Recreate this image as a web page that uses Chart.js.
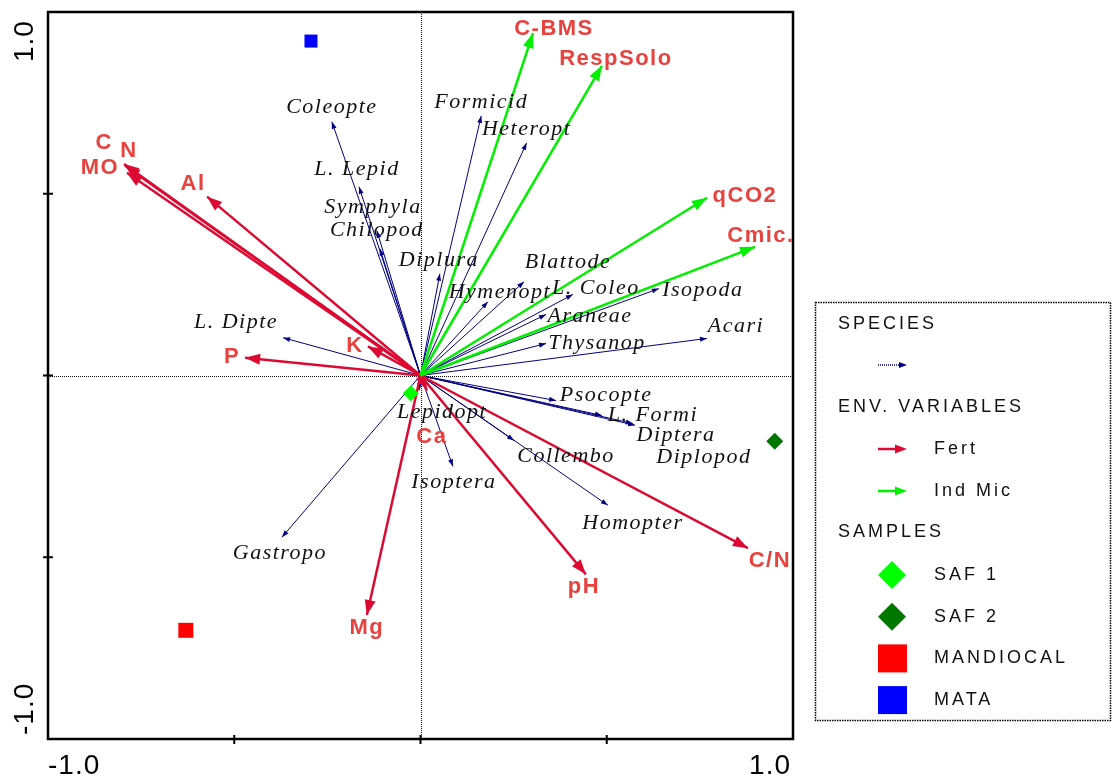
<!DOCTYPE html>
<html>
<head>
<meta charset="utf-8">
<script src="https://cdn.jsdelivr.net/npm/chart.js@4.4.0/dist/chart.umd.min.js"></script>
<style>
  html, body { margin: 0; padding: 0; background: #fff; }
  canvas { display: block; }
</style>
</head>
<body>
<canvas id="biplot" width="1112" height="777"></canvas>
<script>
// species scores (axis 1, axis 2)
const speciesNames = ['Coleopte', 'L. Lepid', 'Symphyla', 'Chilopod', 'Diplura', 'Formicid', 'Heteropt', 'Blattode',
  'Hymenopt', 'L. Coleo', 'Isopoda', 'Araneae', 'Thysanop', 'Acari', 'Psocopte', 'L. Formi', 'Diptera', 'Diplopod',
  'Collembo', 'Homopter', 'Isoptera', 'Lepidopt', 'L. Dipte', 'Gastropo'];
const speciesAxis1 = [-0.238, -0.165, -0.117, -0.109, 0.052, 0.163, 0.285, 0.278,
  0.181, 0.409, 0.640, 0.337, 0.337, 0.769, 0.364, 0.487, 0.576, 0.570,
  0.251, 0.503, 0.087, -0.004, -0.369, -0.372];
const speciesAxis2 = [0.698, 0.519, 0.398, 0.349, 0.280, 0.714, 0.640, 0.258,
  0.203, 0.223, 0.239, 0.168, 0.088, 0.102, -0.069, -0.110, -0.137, -0.132,
  -0.179, -0.357, -0.250, -0.041, 0.104, -0.445];

// environmental variables
const envNames = ['C', 'N', 'MO', 'Al', 'P', 'K', 'Ca', 'Mg', 'pH', 'C/N', 'C-BMS', 'RespSolo', 'qCO2', 'Cmic.'];
const envAxis1 = [-0.793, -0.796, -0.788, -0.573, -0.471, -0.141, 0.017, -0.144, 0.444, 0.879, 0.302, 0.487, 0.769, 0.898];
const envAxis2 = [0.577, 0.582, 0.558, 0.492, 0.049, 0.080, -0.041, -0.659, -0.547, -0.475, 0.942, 0.852, 0.489, 0.354];
const envGroup = ['Fert', 'Fert', 'Fert', 'Fert', 'Fert', 'Fert', 'Fert', 'Fert', 'Fert', 'Fert',
  'Ind Mic', 'Ind Mic', 'Ind Mic', 'Ind Mic'];

// samples
const sampleNames = ['SAF 1', 'SAF 2', 'MANDIOCAL', 'MATA'];
const sampleAxis1 = [-0.026, 0.951, -0.630, -0.294];
const sampleAxis2 = [-0.049, -0.181, -0.701, 0.920];

const axisTicks = [-1, -0.5, 0, 0.5, 1];
const axisTickLabels = ['-1.0', '', '', '', '1.0'];

// label offsets from arrow tips, in pixels
const speciesLabelDx = [0, -2, -4, -3, -1, 0, 0, 44, 12, 23, 44, 44, 51, 29, 50, 51, 41, 71, 52, 25, 1, 23, -47, -2];
const speciesLabelDy = [-15, -18, -24, -18, -14, -14, -14, -19, -9, -6, 2, 2, 0, -12, -5, 0, 10, 34, 16, 18, 16, 22, -15, 16];
const envLabelDx = [-21, 5, -27, -14, -13, -13, 5, 0, -2, 22, 21, 14, 38, 6];
const envLabelDy = [-23, -13, -5, -13, -1, 0, 47, 13, 13, 13, -4, -7, -2, -11];

const SPECIES_COLOR = '#000080';
const GROUP_COLOR = { 'Fert': '#dc0a32', 'Ind Mic': '#00f000' };
const ENV_TEXT = '#e8423f';
const sampleColor = ['#00ff00', '#007800', '#ff0000', '#0000ff'];
const sampleShape = ['rectRot', 'rectRot', 'rect', 'rect'];
const sampleSize = [8, 8.5, 10.6, 9.2];

const SANS = '"Liberation Sans", Arial, sans-serif';
const SERIF = '"Liberation Serif", "Times New Roman", serif';

const datasets = [];
sampleNames.forEach((name, i) => {
  datasets.push({
    label: name,
    data: [{ x: sampleAxis1[i], y: sampleAxis2[i] }],
    pointStyle: sampleShape[i],
    pointRadius: sampleSize[i],
    backgroundColor: sampleColor[i],
    borderColor: sampleColor[i],
    borderWidth: 0,
    order: 0
  });
});
envNames.forEach((name, i) => {
  datasets.push({
    label: name,
    data: [{ x: 0, y: 0 }, { x: envAxis1[i], y: envAxis2[i] }],
    showLine: true,
    borderColor: GROUP_COLOR[envGroup[i]],
    borderWidth: 2.5,
    pointRadius: 0,
    head: [15, 5.5],
    text: name, textFont: 'bold 22px ' + SANS, textColor: ENV_TEXT, spacing: '1.5px',
    dx: envLabelDx[i], dy: envLabelDy[i],
    order: envGroup[i] === 'Ind Mic' ? 1 : 2
  });
});
speciesNames.forEach((name, i) => {
  datasets.push({
    label: name,
    data: [{ x: 0, y: 0 }, { x: speciesAxis1[i], y: speciesAxis2[i] }],
    showLine: true,
    borderColor: SPECIES_COLOR,
    borderWidth: 1,
    pointRadius: 0,
    head: [7, 2.5],
    text: name, textFont: 'italic 22px ' + SERIF, textColor: '#111', spacing: '1.5px',
    dx: speciesLabelDx[i], dy: speciesLabelDy[i],
    order: 3
  });
});

function drawHead(ctx, x0, y0, x1, y1, len, half, color) {
  const ang = Math.atan2(y1 - y0, x1 - x0);
  const c = Math.cos(ang), s = Math.sin(ang);
  const bx = x1 - c * len, by = y1 - s * len;
  ctx.save();
  ctx.fillStyle = color;
  ctx.beginPath();
  ctx.moveTo(x1, y1);
  ctx.lineTo(bx - s * half, by + c * half);
  ctx.lineTo(bx + s * half, by - c * half);
  ctx.closePath();
  ctx.fill();
  ctx.restore();
}

const biplot = {
  id: 'biplot',
  beforeDatasetsDraw(chart) {
    const { ctx, chartArea: a, scales: { x, y } } = chart;
    const x0 = Math.round(x.getPixelForValue(0)) + 0.5;
    const y0 = Math.round(y.getPixelForValue(0)) + 0.5;
    ctx.save();
    ctx.strokeStyle = '#111';
    ctx.lineWidth = 1;
    ctx.setLineDash([1, 1]);
    ctx.beginPath();
    ctx.moveTo(x0, a.top); ctx.lineTo(x0, a.bottom);
    ctx.moveTo(a.left, y0); ctx.lineTo(a.right, y0);
    ctx.stroke();
    ctx.restore();
  },
  afterDatasetDraw(chart, args) {
    const ds = chart.data.datasets[args.index];
    if (!ds.head) return;
    const p = args.meta.data;
    drawHead(chart.ctx, p[0].x, p[0].y, p[1].x, p[1].y, ds.head[0], ds.head[1], ds.borderColor);
  },
  afterDraw(chart) {
    const { ctx, chartArea: a, scales: { x, y } } = chart;
    ctx.save();
    // frame
    ctx.strokeStyle = '#000';
    ctx.lineWidth = 2.5;
    ctx.strokeRect(a.left, a.top, a.right - a.left, a.bottom - a.top);
    ctx.lineWidth = 2;
    ctx.beginPath();
    axisTicks.forEach(v => {
      if (v === -1 || v === 1) return;
      const px = x.getPixelForValue(v);
      ctx.moveTo(px, a.bottom - 4); ctx.lineTo(px, a.bottom + 5);
      const py = y.getPixelForValue(v);
      ctx.moveTo(a.left - 5, py); ctx.lineTo(a.left + 5, py);
    });
    ctx.stroke();

    // axis labels
    ctx.fillStyle = '#000';
    ctx.font = '28px ' + SANS;
    ctx.letterSpacing = '1px';
    ctx.textBaseline = 'alphabetic';
    ctx.textAlign = 'left';
    ctx.fillText(axisTickLabels[0], x.getPixelForValue(axisTicks[0]), 774);
    ctx.textAlign = 'right';
    ctx.fillText(axisTickLabels[4], x.getPixelForValue(axisTicks[4]) - 2, 774);
    ctx.save();
    ctx.translate(33, y.getPixelForValue(axisTicks[0]) - 4);
    ctx.rotate(-Math.PI / 2);
    ctx.textAlign = 'left';
    ctx.fillText(axisTickLabels[0], 0, 0);
    ctx.restore();
    ctx.save();
    ctx.translate(33, 62);
    ctx.rotate(-Math.PI / 2);
    ctx.textAlign = 'left';
    ctx.fillText(axisTickLabels[4], 0, 0);
    ctx.restore();

    // arrow labels
    ctx.textAlign = 'center';
    ctx.textBaseline = 'middle';
    chart.data.datasets.forEach((ds, i) => {
      if (!ds.text) return;
      const tip = chart.getDatasetMeta(i).data[1];
      ctx.font = ds.textFont;
      ctx.letterSpacing = ds.spacing;
      ctx.fillStyle = ds.textColor;
      ctx.fillText(ds.text, tip.x + ds.dx, tip.y + ds.dy);
    });

    // legend
    ctx.strokeStyle = '#000';
    ctx.lineWidth = 1.5;
    ctx.setLineDash([1.5, 1]);
    ctx.strokeRect(815.5, 302.5, 295, 418);
    ctx.setLineDash([]);
    ctx.font = '18px ' + SANS;
    ctx.letterSpacing = '3px';
    ctx.fillStyle = '#111';
    ctx.textAlign = 'left';
    ctx.fillText('SPECIES', 838, 324);
    ctx.fillText('ENV. VARIABLES', 838, 407);
    ctx.fillText('SAMPLES', 838, 532);

    // species arrow sample
    ctx.strokeStyle = SPECIES_COLOR;
    ctx.lineWidth = 1.5;
    ctx.setLineDash([1, 1]);
    ctx.beginPath(); ctx.moveTo(878, 365); ctx.lineTo(900, 365); ctx.stroke();
    ctx.setLineDash([]);
    drawHead(ctx, 878, 365, 907, 365, 8, 3, SPECIES_COLOR);

    const groups = ['Fert', 'Ind Mic'];
    groups.forEach((g, k) => {
      const ly = 449 + k * 42;
      ctx.strokeStyle = GROUP_COLOR[g];
      ctx.lineWidth = 2.5;
      ctx.beginPath(); ctx.moveTo(878, ly); ctx.lineTo(897, ly); ctx.stroke();
      drawHead(ctx, 878, ly, 907, ly, 12, 4.5, GROUP_COLOR[g]);
      ctx.fillStyle = '#111';
      ctx.fillText(g, 934, ly);
    });

    sampleNames.forEach((name, k) => {
      const ly = 575 + k * 41.7;
      ctx.fillStyle = sampleColor[k];
      ctx.beginPath();
      if (sampleShape[k] === 'rectRot') {
        ctx.moveTo(892, ly - 14); ctx.lineTo(906, ly); ctx.lineTo(892, ly + 14); ctx.lineTo(878, ly);
        ctx.closePath();
      } else {
        ctx.rect(878, ly - 14, 29, 28);
      }
      ctx.fill();
      ctx.fillStyle = '#111';
      ctx.fillText(name, 934, ly);
    });
    ctx.restore();
  }
};

new Chart(document.getElementById('biplot'), {
  type: 'scatter',
  data: { datasets },
  options: {
    responsive: false,
    animation: false,
    events: [],
    layout: { padding: { left: 48, top: 12, right: 319, bottom: 38 } },
    scales: {
      x: { type: 'linear', min: -1, max: 1, display: false },
      y: { type: 'linear', min: -1, max: 1, display: false }
    },
    plugins: { legend: { display: false }, tooltip: { enabled: false } }
  },
  plugins: [biplot]
});
</script>
</body>
</html>
